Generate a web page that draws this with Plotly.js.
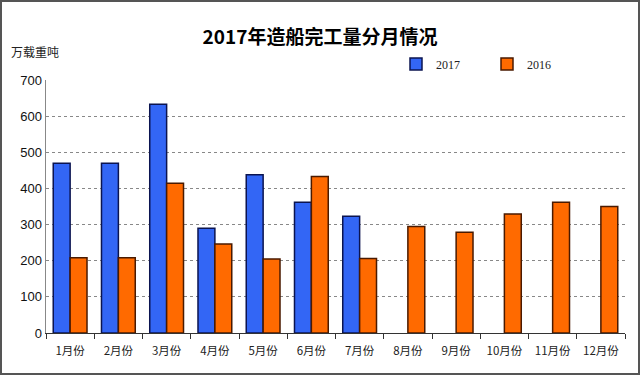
<!DOCTYPE html>
<html><head><meta charset="utf-8">
<script src="https://cdn.plot.ly/plotly-3.0.1.min.js"></script>
<style>
html,body{margin:0;padding:0;background:#fff;}
#wrap{position:relative;width:640px;height:375px;}
#chart{width:640px;height:375px;}
#frame{position:absolute;left:0;top:0;width:640px;height:375px;box-sizing:border-box;border:2px solid #555;pointer-events:none;}
</style></head>
<body>
<div id="wrap"><div id="chart"></div><div id="frame"></div></div>
<script>
const months = ["1月份","2月份","3月份","4月份","5月份","6月份","7月份","8月份","9月份","10月份","11月份","12月份"];
const values2017 = [470, 470, 633, 290, 438, 362, 323, null, null, null, null, null];
const values2016 = [208, 208, 414, 246, 205, 433, 206, 295, 279, 329, 362, 350];
const yTicks = [0, 100, 200, 300, 400, 500, 600, 700];

const traces = [
  {type:'bar', name:'2017', x:months, y:values2017,
   marker:{color:'#3366f5', line:{color:'#0b1450', width:1.5}}},
  {type:'bar', name:'2016', x:months, y:values2016,
   marker:{color:'#ff6a00', line:{color:'#4a1a00', width:1.5}}}
];

const layout = {
  width:640, height:375,
  margin:{l:46, r:15, t:80, b:42, autoexpand:false},
  paper_bgcolor:'#fff', plot_bgcolor:'#fff',
  barmode:'group', bargap:0.3, bargroupgap:0,
  title:{text:'2017年造船完工量分月情况', x:0.5, xanchor:'center', y:0.9, yanchor:'middle', yref:'container',
         font:{family:'Noto Sans CJK SC', size:19, color:'#000', weight:'bold'}},
  showlegend:true,
  legend:{orientation:'h', x:(396-46)/579, xanchor:'left', y:(333-64)/253, yanchor:'middle',
          font:{family:'Liberation Serif', size:12, color:'#222'}, entrywidth:46, entrywidthmode:'pixels',
          itemwidth:30, bgcolor:'rgba(0,0,0,0)', tracegroupgap:0},
  xaxis:{type:'category', showline:true, linecolor:'#333', linewidth:1, ticks:'outside', tickson:'boundaries',
         ticklen:5, tickcolor:'#333', showgrid:false, tickangle:0, automargin:false, ticklabelstandoff:7,
         tickfont:{family:'Noto Sans CJK SC', size:11.5, color:'#222'}},
  yaxis:{range:[0,700], tickvals:yTicks, showline:true, linecolor:'#888', linewidth:1.5, ticks:'',
         showgrid:true, gridcolor:'#888', griddash:'dot', gridwidth:1, zeroline:false, automargin:false,
         tickfont:{family:'Liberation Sans', size:13, color:'#111'}},
  annotations:[{text:'万载重吨', xref:'paper', yref:'paper', x:-37/579, xanchor:'left',
                y:(333-52)/253, yanchor:'middle', showarrow:false,
                font:{family:'Noto Sans CJK SC', size:12, color:'#222'}}]
};
Plotly.newPlot('chart', traces, layout, {displayModeBar:false, staticPlot:true});
</script>
</body></html>
